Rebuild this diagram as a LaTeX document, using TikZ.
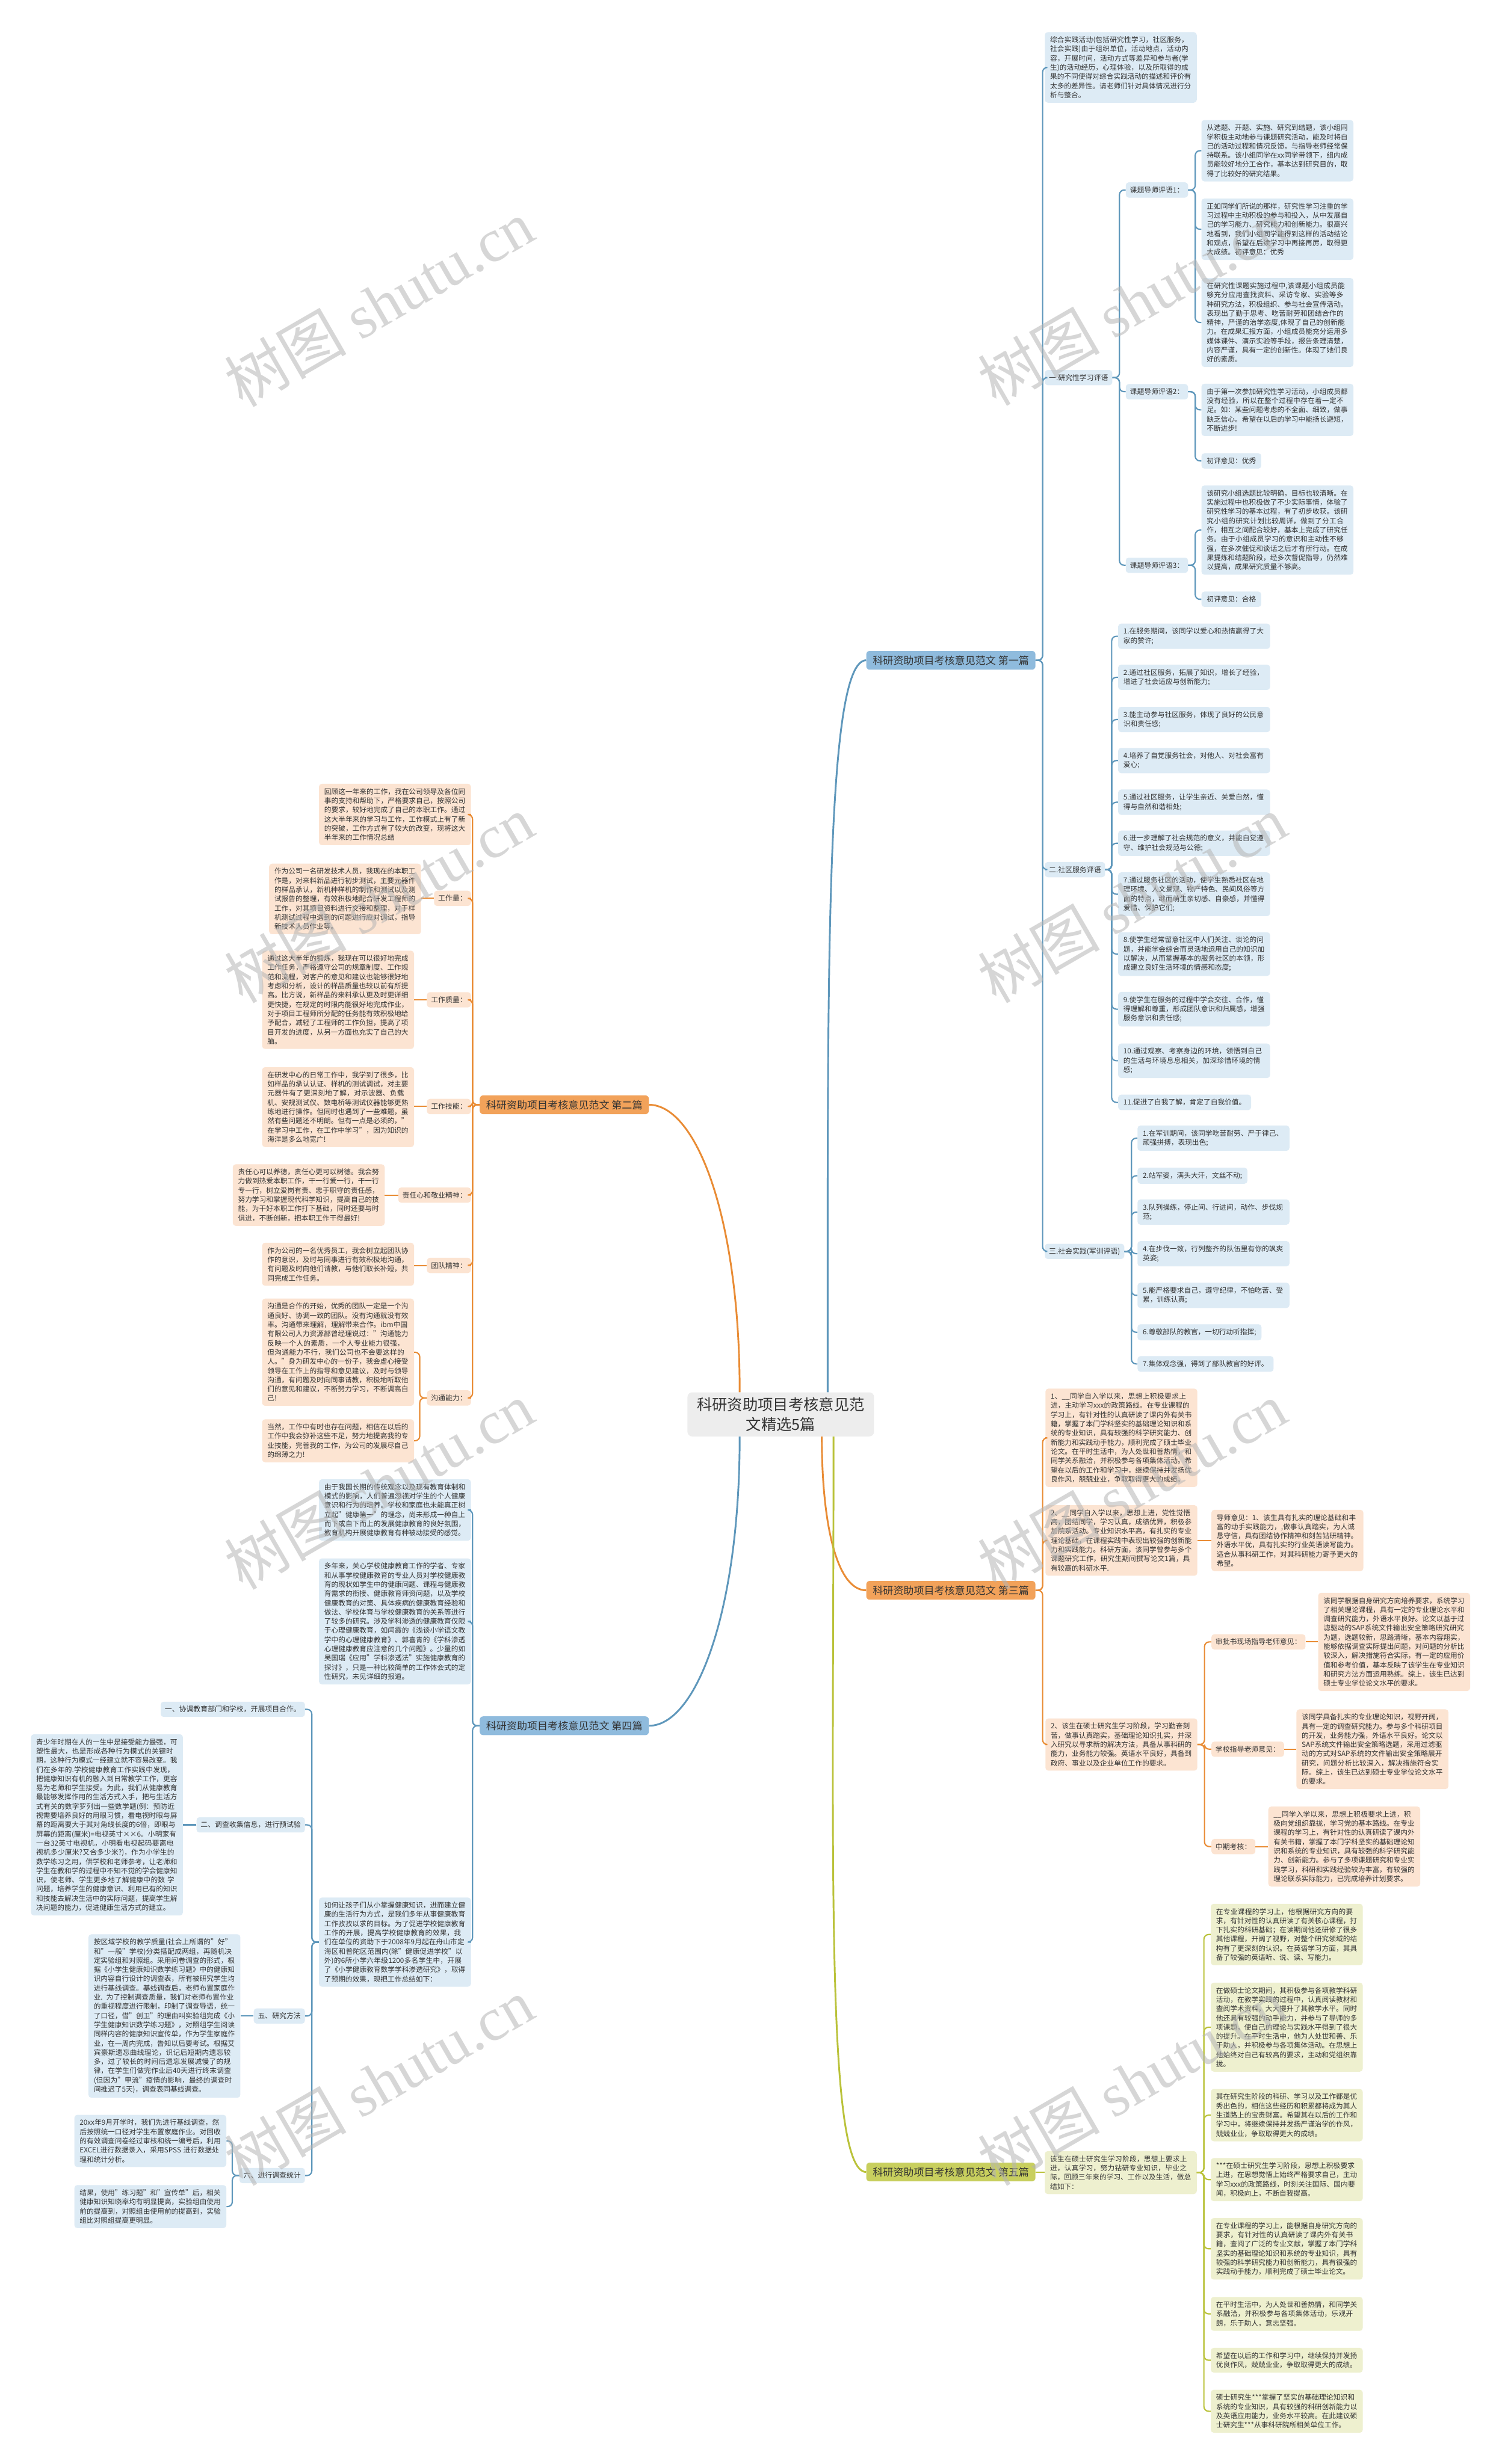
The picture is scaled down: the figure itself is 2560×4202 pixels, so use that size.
\documentclass[tikz,border=0pt]{standalone}
\usepackage{fontspec}
\setmainfont{Noto Sans CJK SC}
\newfontfamily\wmser{Liberation Serif}
\XeTeXlinebreaklocale "zh"
\XeTeXlinebreakskip=0pt plus 1pt
\setlength{\parindent}{0pt}
\definecolor{txtc}{HTML}{333333}
\definecolor{bluef}{HTML}{DDEBF5}
\definecolor{bluel}{HTML}{5E97BB}
\definecolor{blueb}{HTML}{8FBBDD}
\definecolor{orf}{HTML}{FCE4D2}
\definecolor{orl}{HTML}{E98C35}
\definecolor{orb}{HTML}{F2A25A}
\definecolor{grf}{HTML}{EEF0CF}
\definecolor{grl}{HTML}{BAC23A}
\definecolor{grb}{HTML}{C8CF5E}
\definecolor{cenf}{HTML}{EDEDED}
\definecolor{wmc}{HTML}{B5B5B5}
\tikzset{
  tx/.style={font=\fontsize{12}{15.7}\selectfont, text=txtc, rounded corners=5pt, inner xsep=9pt, inner ysep=7.5pt, align=left},
  tw/.style={tx, text width=241pt},
  lb/.style={font=\fontsize{12.2}{15}\selectfont, text=txtc, rounded corners=5pt, inner xsep=7pt, inner ysep=4pt, minimum height=26pt},
  br/.style={font=\fontsize{17.5}{21}\selectfont, text=txtc, rounded corners=6pt, inner xsep=11pt, inner ysep=4pt, minimum height=32pt},
  cen/.style={font=\fontsize{26}{33}\selectfont, text=txtc, fill=cenf, rounded corners=8pt, inner xsep=16pt, inner ysep=9pt, align=center},
  fb/.style={fill=bluef}, fo/.style={fill=orf}, fg/.style={fill=grf},
  lnb/.style={draw=bluel, line width=2.2pt, rounded corners=8pt},
  lno/.style={draw=orl, line width=2.2pt, rounded corners=8pt},
  lng/.style={draw=grl, line width=2.2pt, rounded corners=8pt},
  mnb/.style={draw=bluel, line width=3pt},
  mno/.style={draw=orl, line width=3pt},
  mng/.style={draw=grl, line width=3pt},
  wm/.style={font=\fontsize{104}{106}\selectfont, text=wmc, opacity=0.55, rotate=30}
}
\begin{document}
\begin{tikzpicture}[x=1pt,y=-1pt]
\useasboundingbox (0,0) rectangle (2560,4202);
\fill[white] (0,0) rectangle (2560,4202);

% centre and branches
\node[cen] (c) at (1331,2412) {科研资助项目考核意见范\\文精选5篇};
\node[br, fill=blueb] (b1) at (1621,1126) {科研资助项目考核意见范文 第一篇};
\node[br, fill=orb] (b2) at (962,1884) {科研资助项目考核意见范文 第二篇};
\node[br, fill=orb] (b3) at (1621,2712) {科研资助项目考核意见范文 第三篇};
\node[br, fill=blueb] (b4) at (962,2943) {科研资助项目考核意见范文 第四篇};
\node[br, fill=grb] (b5) at (1621,3704) {科研资助项目考核意见范文 第五篇};

\draw[mnb] ([xshift=80]c.north) .. controls +(0,-700) and +(-70,0) .. (b1.west);
\draw[mno] ([xshift=-70]c.north) .. controls +(0,-300) and +(80,0) .. (b2.east);
\draw[mno] ([xshift=70]c.south) .. controls +(0,150) and +(-50,0) .. (b3.west);
\draw[mnb] ([xshift=-70]c.south) .. controls +(0,300) and +(80,0) .. (b4.east);
\draw[mng] ([xshift=90]c.south) .. controls +(0,700) and +(-70,0) .. (b5.west);

% ---------- branch 1 ----------
\node[tw,fb,anchor=west] (k0) at (1781,115) {综合实践活动(包括研究性学习，社区服务，社会实践)由于组织单位，活动地点，活动内容，开展时间，活动方式等差异和参与者(学生)的活动经历，心理体验，以及所取得的成果的不同使得对综合实践活动的描述和评价有太多的差异性。请老师们针对具体情况进行分析与整合。};
\node[lb,fb,anchor=west] (s1) at (1781,644) {一.研究性学习评语};
\node[lb,fb,anchor=west] (s2) at (1781,1483) {二.社区服务评语};
\node[lb,fb,anchor=west] (s3) at (1781,2134) {三.社会实践(军训评语)};
\foreach \n in {k0,s1,s2,s3} \draw[lnb] (b1.east) -- ++(12,0) |- (\n.west);

\node[lb,fb,anchor=west] (p1) at (1919,324) {课题导师评语1：};
\node[lb,fb,anchor=west] (p2) at (1919,668) {课题导师评语2：};
\node[lb,fb,anchor=west] (p3) at (1919,964) {课题导师评语3：};
\foreach \n in {p1,p2,p3} \draw[lnb] (s1.east) -- ++(12,0) |- (\n.west);

\node[tw,fb,anchor=west] (a1) at (2048,257) {从选题、开题、实施、研究到结题，该小组同学积极主动地参与课题研究活动，能及时将自己的活动过程和情况反馈，与指导老师经常保持联系。该小组同学在xx同学带领下，组内成员能较好地分工合作，基本达到研究目的，取得了比较好的研究结果。};
\node[tw,fb,anchor=west] (a2) at (2048,391) {正如同学们所说的那样，研究性学习注重的学习过程中主动积极的参与和投入，从中发展自己的学习能力、研究能力和创新能力。很高兴地看到，我们小组同学能得到这样的活动结论和观点，希望在后续学习中再接再厉，取得更大成绩。初评意见：优秀};
\node[tw,fb,anchor=west] (a3) at (2048,550) {在研究性课题实施过程中,该课题小组成员能够充分应用查找资料、采访专家、实验等多种研究方法，积极组织、参与社会宣传活动。表现出了勤于思考、吃苦耐劳和团结合作的精神，严谨的治学态度,体现了自己的创新能力。在成果汇报方面，小组成员能充分运用多媒体课件、演示实验等手段，报告条理清楚，内容严谨，具有一定的创新性。体现了她们良好的素质。};
\foreach \n in {a1,a2,a3} \draw[lnb] (p1.east) -- ++(12,0) |- (\n.west);

\node[tw,fb,anchor=west] (q1) at (2048,699) {由于第一次参加研究性学习活动，小组成员都没有经验，所以在整个过程中存在着一定不足。如：某些问题考虑的不全面、细致，做事缺乏信心。希望在以后的学习中能扬长避短，不断进步!};
\node[tx,fb,anchor=west] (q2) at (2048,786) {初评意见：优秀};
\foreach \n in {q1,q2} \draw[lnb] (p2.east) -- ++(12,0) |- (\n.west);

\node[tw,fb,anchor=west] (r1) at (2048,904) {该研究小组选题比较明确，目标也较清晰。在实施过程中也积极做了不少实际事情，体验了研究性学习的基本过程，有了初步收获。该研究小组的研究计划比较周详，做到了分工合作，相互之间配合较好，基本上完成了研究任务。由于小组成员学习的意识和主动性不够强，在多次催促和谈话之后才有所行动。在成果提炼和结题阶段，经多次督促指导，仍然难以提高，成果研究质量不够高。};
\node[tx,fb,anchor=west] (r2) at (2048,1022) {初评意见：合格};
\foreach \n in {r1,r2} \draw[lnb] (p3.east) -- ++(12,0) |- (\n.west);

\node[tw,fb,anchor=west] (i1) at (1906,1085) {1.在服务期间，该同学以爱心和热情赢得了大家的赞许;};
\node[tw,fb,anchor=west] (i2) at (1906,1155) {2.通过社区服务，拓展了知识，增长了经验，增进了社会适应与创新能力;};
\node[tw,fb,anchor=west] (i3) at (1906,1227) {3.能主动参与社区服务，体现了良好的公民意识和责任感;};
\node[tw,fb,anchor=west] (i4) at (1906,1297) {4.培养了自觉服务社会，对他人、对社会富有爱心;};
\node[tw,fb,anchor=west] (i5) at (1906,1368) {5.通过社区服务，让学生亲近、关爱自然，懂得与自然和谐相处;};
\node[tw,fb,anchor=west] (i6) at (1906,1438) {6.进一步理解了社会规范的意义，并能自觉遵守、维护社会规范与公德;};
\node[tw,fb,anchor=west] (i7) at (1906,1525) {7.通过服务社区的活动，使学生熟悉社区在地理环境、人文景观、物产特色、民间风俗等方面的特点，继而萌生亲切感、自豪感，并懂得爱惜、保护它们;};
\node[tw,fb,anchor=west] (i8) at (1906,1627) {8.使学生经常留意社区中人们关注、谈论的问题，并能学会综合而灵活地运用自己的知识加以解决，从而掌握基本的服务社区的本领，形成建立良好生活环境的情感和态度;};
\node[tw,fb,anchor=west] (i9) at (1906,1721) {9.使学生在服务的过程中学会交往、合作，懂得理解和尊重，形成团队意识和归属感，增强服务意识和责任感;};
\node[tw,fb,anchor=west] (i10) at (1906,1809) {10.通过观察、考察身边的环境，领悟到自己的生活与环境息息相关，加深珍惜环境的情感;};
\node[tx,fb,anchor=west] (i11) at (1906,1880) {11.促进了自我了解，肯定了自我价值。};
\foreach \n in {i1,i2,i3,i4,i5,i6,i7,i8,i9,i10,i11} \draw[lnb] (s2.east) -- ++(11,0) |- (\n.west);

\node[tw,fb,anchor=west] (j1) at (1939,1941) {1.在军训期间，该同学吃苦耐劳、严于律己、顽强拼搏，表现出色;};
\node[tx,fb,anchor=west] (j2) at (1939,2005) {2.站军姿，满头大汗，文丝不动;};
\node[tw,fb,anchor=west] (j3) at (1939,2067) {3.队列操练，停止间、行进间，动作、步伐规范;};
\node[tw,fb,anchor=west] (j4) at (1939,2138) {4.在步伐一致，行列整齐的队伍里有你的飒爽英姿;};
\node[tw,fb,anchor=west] (j5) at (1939,2209) {5.能严格要求自己，遵守纪律，不怕吃苦、受累，训练认真;};
\node[tx,fb,anchor=west] (j6) at (1939,2272) {6.尊敬部队的教官，一切行动听指挥;};
\node[tx,fb,anchor=west] (j7) at (1939,2326) {7.集体观念强，得到了部队教官的好评。};
\foreach \n in {j1,j2,j3,j4,j5,j6,j7} \draw[lnb] (s3.east) -- ++(12,0) |- (\n.west);

% ---------- branch 3 ----------
\node[tw,fo,anchor=west] (t1) at (1782,2452) {1、\_\_同学自入学以来，思想上积极要求上进，主动学习xxx的政策路线。在专业课程的学习上，有针对性的认真研读了课内外有关书籍，掌握了本门学科坚实的基础理论知识和系统的专业知识，具有较强的科学研究能力、创新能力和实践动手能力，顺利完成了硕士毕业论文。在平时生活中，为人处世和善热情，和同学关系融洽，并积极参与各项集体活动。希望在以后的工作和学习中，继续保持并发扬优良作风，兢兢业业，争取取得更大的成绩。};
\node[tw,fo,anchor=west] (t2) at (1782,2627) {2、\_\_同学自入学以来，思想上进，党性觉悟高，团结同学，学习认真，成绩优异，积极参加院系活动。专业知识水平高，有扎实的专业理论基础，在课程实践中表现出较强的创新能力和实践能力。科研方面，该同学曾参与多个课题研究工作，研究生期间撰写论文1篇，具有较高的科研水平.};
\node[tw,fo,anchor=west] (t3) at (1782,2975) {2、该生在硕士研究生学习阶段，学习勤奋刻苦，做事认真踏实，基础理论知识扎实，并深入研究以寻求新的解决方法，具备从事科研的能力，业务能力较强。英语水平良好，具备到政府、事业以及企业单位工作的要求。};
\foreach \n in {t1,t2,t3} \draw[lno] (b3.east) -- ++(12,0) |- (\n.west);

\node[tw,fo,anchor=west] (t2c) at (2065,2627) {导师意见：1、该生具有扎实的理论基础和丰富的动手实践能力，,做事认真踏实，为人诚恳守信，具有团结协作精神和刻苦钻研精神。外语水平优，具有扎实的行业英语读写能力。适合从事科研工作，对其科研能力寄予更大的希望。};
\draw[lno] (t2.east) -- (t2.east -| t2c.west);

\node[lb,fo,anchor=west] (u1) at (2065,2800) {审批书现场指导老师意见：};
\node[lb,fo,anchor=west] (u2) at (2065,2983) {学校指导老师意见：};
\node[lb,fo,anchor=west] (u3) at (2065,3149) {中期考核：};
\foreach \n in {u1,u2,u3} \draw[lno] (t3.east) -- ++(12,0) |- (\n.west);

\node[tw,fo,anchor=west] (u1c) at (2247,2800) {该同学根据自身研究方向培养要求，系统学习了相关理论课程，具有一定的专业理论水平和调查研究能力，外语水平良好。论文以基于过滤驱动的SAP系统文件输出安全策略研究研究为题，选题较新，思路清晰，基本内容翔实，能够依据调查实际提出问题，对问题的分析比较深入，解决措施符合实际，有一定的应用价值和参考价值，基本反映了该学生在专业知识和研究方法方面运用熟练。综上，该生已达到硕士专业学位论文水平的要求。};
\node[tw,fo,anchor=west] (u2c) at (2210,2983) {该同学具备扎实的专业理论知识，视野开阔，具有一定的调查研究能力。参与多个科研项目的开发，业务能力强，外语水平良好。论文以SAP系统文件输出安全策略选题，采用过滤驱动的方式对SAP系统的文件输出安全策略展开研究，问题分析比较深入，解决措施符合实际。综上，该生已达到硕士专业学位论文水平的要求。};
\node[tw,fo,anchor=west] (u3c) at (2162,3149) {\_\_同学入学以来，思想上积极要求上进，积极向党组织靠拢，学习党的基本路线。在专业课程的学习上，有针对性的认真研读了课内外有关书籍，掌握了本门学科坚实的基础理论知识和系统的专业知识，具有较强的科学研究能力、创新能力。参与了多项课题研究和专业实践学习，科研和实践经验较为丰富，有较强的理论联系实际能力，已完成培养计划要求。};
\draw[lno] (u1.east) -- (u1.east -| u1c.west);
\draw[lno] (u2.east) -- (u2.east -| u2c.west);
\draw[lno] (u3.east) -- (u3.east -| u3c.west);

% ---------- branch 5 ----------
\node[tw,fg,anchor=west] (s5) at (1781,3705) {该生在硕士研究生学习阶段，思想上要求上进，认真学习，努力钻研专业知识，毕业之际，回顾三年来的学习、工作以及生活，做总结如下：};
\draw[lng] (b5.east) -- (b5.east -| s5.west);
\node[tw,fg,anchor=west] (f1) at (2064,3299) {在专业课程的学习上，他根据研究方向的要求，有针对性的认真研读了有关核心课程，打下扎实的科研基础；在读期间他还研修了很多其他课程，开阔了视野，对整个研究领域的结构有了更深刻的认识。在英语学习方面，其具备了较强的英语听、说、读、写能力。};
\node[tw,fg,anchor=west] (f2) at (2064,3457) {在做硕士论文期间，其积极参与各项教学科研活动，在教学实践的过程中，认真阅读教材和查阅学术资料，大大提升了其教学水平。同时他还具有较强的动手能力，并参与了导师的多项课题，使自己的理论与实践水平得到了很大的提升。在平时生活中，他为人处世和善、乐于助人，并积极参与各项集体活动。在思想上他始终对自己有较高的要求，主动和党组织靠拢。};
\node[tw,fg,anchor=west] (f3) at (2064,3607) {其在研究生阶段的科研、学习以及工作都是优秀出色的，相信这些经历和积累都将成为其人生道路上的宝贵财富。希望其在以后的工作和学习中，将继续保持并发扬严谨治学的作风，兢兢业业，争取取得更大的成绩。};
\node[tw,fg,anchor=west] (f4) at (2064,3717) {***在硕士研究生学习阶段，思想上积极要求上进，在思想觉悟上始终严格要求自己，主动学习xxx的政策路线，时刻关注国际、国内要闻，积极向上，不断自我提高。};
\node[tw,fg,anchor=west] (f5) at (2064,3835) {在专业课程的学习上，能根据自身研究方向的要求，有针对性的认真研读了课内外有关书籍，查阅了广泛的专业文献，掌握了本门学科坚实的基础理论知识和系统的专业知识，具有较强的科学研究能力和创新能力，具有很强的实践动手能力，顺利完成了硕士毕业论文。};
\node[tw,fg,anchor=west] (f6) at (2064,3946) {在平时生活中，为人处世和善热情，和同学关系融洽，并积极参与各项集体活动，乐观开朗，乐于助人，意志坚强。};
\node[tw,fg,anchor=west] (f7) at (2064,4025) {希望在以后的工作和学习中，继续保持并发扬优良作风，兢兢业业，争取取得更大的成绩。};
\node[tw,fg,anchor=west] (f8) at (2064,4112) {硕士研究生***掌握了坚实的基础理论知识和系统的专业知识，具有较强的科研创新能力以及英语应用能力，业务水平较高。在此建议硕士研究生***从事科研院所相关单位工作。};
\foreach \n in {f1,f2,f3,f4,f5,f6,f7,f8} \draw[lng] (s5.east) -- ++(12,0) |- (\n.west);

% ---------- branch 2 ----------
\node[tw,fo,anchor=east] (e0) at (803,1389) {回顾这一年来的工作，我在公司领导及各位同事的支持和帮助下，严格要求自己，按照公司的要求，较好地完成了自己的本职工作。通过这大半年来的学习与工作，工作模式上有了新的突破，工作方式有了较大的改变，现将这大半年来的工作情况总结};
\node[lb,fo,anchor=east] (e1) at (803,1532) {工作量：};
\node[lb,fo,anchor=east] (e2) at (803,1705) {工作质量：};
\node[lb,fo,anchor=east] (e3) at (803,1887) {工作技能：};
\node[lb,fo,anchor=east] (e4) at (803,2038) {责任心和敬业精神：};
\node[lb,fo,anchor=east] (e5) at (803,2158) {团队精神：};
\node[lb,fo,anchor=east] (e6) at (803,2384) {沟通能力：};
\foreach \n in {e0,e1,e2,e3,e4,e5,e6} \draw[lno] (b2.west) -- ++(-12,0) |- (\n.east);

\node[tw,fo,anchor=east] (e1c) at (718,1533) {作为公司一名研发技术人员，我现在的本职工作是，对来料新品进行初步测试，主要元器件的样品承认，新机种样机的制作和测试以及测试报告的整理，有效积极地配合研发工程师的工作，对其项目资料进行交接和整理，对于样机测试过程中遇到的问题进行应对调试，指导新技术人员作业等。};
\node[tw,fo,anchor=east] (e2c) at (706,1705) {通过这大半年的锻炼，我现在可以很好地完成工作任务，严格遵守公司的规章制度、工作规范和流程，对客户的意见和建议也能够很好地考虑和分析，设计的样品质量也较以前有所提高。比方说，新样品的来料承认更及时更详细更快捷，在规定的时限内能很好地完成作业，对于项目工程师所分配的任务能有效积极地给予配合，减轻了工程师的工作负担，提高了项目开发的进度，从另一方面也充实了自己的大脑。};
\node[tw,fo,anchor=east] (e3c) at (706,1888) {在研发中心的日常工作中，我学到了很多，比如样品的承认认证、样机的测试调试，对主要元器件有了更深刻地了解，对示波器、负载机、安规测试仪、数电桥等测试仪器能够更熟练地进行操作。但同时也遇到了一些难题，虽然有些问题还不明朗。但有一点是必须的，"在学习中工作，在工作中学习"，因为知识的海洋是多么地宽广!};
\node[tw,fo,anchor=east] (e4c) at (656,2038) {责任心可以养德，责任心更可以树德。我会努力做到热爱本职工作，干一行爱一行，干一行专一行，树立爱岗有责、忠于职守的责任感，努力学习和掌握现代科学知识，提高自己的技能，为干好本职工作打下基础，同时还要与时俱进，不断创新，把本职工作干得最好!};
\node[tw,fo,anchor=east] (e5c) at (706,2156) {作为公司的一名优秀员工，我会树立起团队协作的意识，及时与同事进行有效积极地沟通，有问题及时向他们请教，与他们取长补短，共同完成工作任务。};
\foreach \n in {1,2,3,4,5} \draw[lno] (e\n.west) -- (e\n.west -| e\n c.east);

\node[tw,fo,anchor=east] (e6a) at (706,2306) {沟通是合作的开始，优秀的团队一定是一个沟通良好、协调一致的团队。没有沟通就没有效率。沟通带来理解，理解带来合作。ibm中国有限公司人力资源部曾经理说过："沟通能力反映一个人的素质，一个人专业能力很强，但沟通能力不行，我们公司也不会要这样的人。"身为研发中心的一份子，我会虚心接受领导在工作上的指导和意见建议，及时与领导沟通，有问题及时向同事请教，积极地听取他们的意见和建议，不断努力学习，不断调高自己!};
\node[tw,fo,anchor=east] (e6b) at (706,2457) {当然，工作中有时也存在问题，相信在以后的工作中我会弥补这些不足，努力地提高我的专业技能，完善我的工作，为公司的发展尽自己的绵薄之力!};
\foreach \n in {e6a,e6b} \draw[lno] (e6.west) -- ++(-12,0) |- (\n.east);

% ---------- branch 4 ----------
\node[tw,fb,anchor=east] (d1) at (803,2575) {由于我国长期的传统观念以及现有教育体制和模式的影响，人们普遍忽视对学生的个人健康意识和行为的培养。学校和家庭也未能真正树立起"健康第一"的理念，尚未形成一种自上而下或自下而上的发展健康教育的良好氛围，教育机构开展健康教育有种被动接受的感觉。};
\node[tw,fb,anchor=east] (d2) at (803,2765) {多年来，关心学校健康教育工作的学者、专家和从事学校健康教育的专业人员对学校健康教育的现状如学生中的健康问题、课程与健康教育需求的衔接、健康教育师资问题，以及学校健康教育的对策、具体疾病的健康教育经验和做法、学校体育与学校健康教育的关系等进行了较多的研究。涉及学科渗透的健康教育仅限于心理健康教育，如闫霞的《浅谈小学语文教学中的心理健康教育》、郭喜青的《学科渗透心理健康教育应注意的几个问题》。少量的如吴国瑞《应用"学科渗透法"实施健康教育的探讨》，只是一种比较简单的工作体会式的定性研究，未见详细的报道。};
\node[tw,fb,anchor=east] (d3) at (803,3312) {如何让孩子们从小掌握健康知识，进而建立健康的生活行为方式，是我们多年从事健康教育工作孜孜以求的目标。为了促进学校健康教育工作的开展，提高学校健康教育的效果，我们在单位的资助下于2008年9月起在舟山市定海区和普陀区范围内(除"健康促进学校"以外)的6所小学六年级1200多名学生中，开展了《小学健康教育数学学科渗透研究》，取得了预期的效果，现把工作总结如下：};
\foreach \n in {d1,d2,d3} \draw[lnb] (b4.west) -- ++(-12,0) |- (\n.east);

\node[lb,fb,anchor=east] (g1) at (520,2915) {一、协调教育部门和学校，开展项目合作。};
\node[lb,fb,anchor=east] (g2) at (520,3112) {二、调查收集信息，进行预试验};
\node[lb,fb,anchor=east] (g3) at (520,3438) {五、研究方法};
\node[lb,fb,anchor=east] (g4) at (520,3710) {六、进行调查统计};
\foreach \n in {g1,g2,g3,g4} \draw[lnb] (d3.west) -- ++(-12,0) |- (\n.east);

\node[tw,fb,anchor=east] (g2c) at (312,3112) {青少年时期在人的一生中是接受能力最强，可塑性最大，也是形成各种行为模式的关键时期，这种行为模式一经建立就不容易改变。我们在多年的.学校健康教育工作实践中发现，把健康知识有机的融入到日常教学工作，更容易为老师和学生接受。为此，我们从健康教育最能够发挥作用的生活方式入手，把与生活方式有关的数字罗列出一些数学题(例：预防近视需要培养良好的用眼习惯，看电视时眼与屏幕的距离要大于其对角线长度的6倍，即眼与屏幕的距离(厘米)=电视英寸××6。小明家有一台32英寸电视机，小明看电视起码要离电视机多少厘米?又合多少米?)，作为小学生的数学练习之用，供学校和老师参考，让老师和学生在教和学的过程中不知不觉的学会健康知识，使老师、学生更多地了解健康中的数 学问题，培养学生的健康意识、利用已有的知识和技能去解决生活中的实际问题，提高学生解决问题的能力，促进健康生活方式的建立。};
\node[tw,fb,anchor=east] (g3c) at (410,3438) {按区域学校的教学质量(社会上所谓的"好" 和"一般"学校)分类搭配成两组，再随机决定实验组和对照组。采用问卷调查的形式，根据《小学生健康知识数学练习题》中的健康知识内容自行设计的调查表，所有被研究学生均进行基线调查。基线调查后，老师布置家庭作业. 为了控制调查质量，我们对老师布置作业的重视程度进行限制，印制了调查导语，统一了口径，借"创卫"的理由叫实验组完成《小学生健康知识数学练习题》，对照组学生阅读同样内容的健康知识宣传单，作为学生家庭作业，在一周内完成，告知以后要考试。根据艾宾豪斯遗忘曲线理论，识记后短期内遗忘较多，过了较长的时间后遗忘发展减慢了的规律，在学生们做完作业后40天进行终末调查(但因为"甲流"疫情的影响，最终的调查时间推迟了5天)，调查表同基线调查。};
\draw[lnb] (g2.west) -- (g2.west -| g2c.east);
\draw[lnb] (g3.west) -- (g3.west -| g3c.east);

\node[tw,fb,anchor=east] (g4a) at (386,3651) {20xx年9月开学时，我们先进行基线调查，然后按照统一口径对学生布置家庭作业。对回收的有效调查问卷经过审核和统一编号后，利用EXCEL进行数据录入，采用SPSS 进行数据处理和统计分析。};
\node[tw,fb,anchor=east] (g4b) at (386,3763) {结果，使用"练习题"和"宣传单"后，相关健康知识知晓率均有明显提高，实验组由使用前的提高到，对照组由使用前的提高到，实验组比对照组提高更明显。};
\foreach \n in {g4a,g4b} \draw[lnb] (g4.west) -- ++(-12,0) |- (\n.east);

% ---------- watermarks ----------
\foreach \p in {(646,517),(1930,515),(646,1533),(1930,1533),(646,2533),(1930,2533),(646,3550),(1930,3550)}
  \node[wm] at \p {树图 {\wmser shutu.cn}};
\end{tikzpicture}
\end{document}
